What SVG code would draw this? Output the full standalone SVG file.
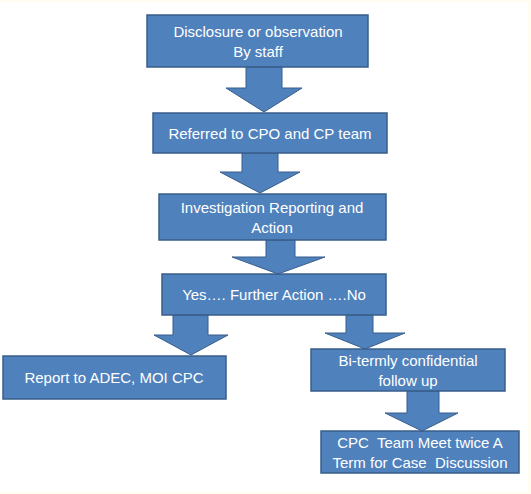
<svg xmlns="http://www.w3.org/2000/svg" width="531" height="494" viewBox="0 0 531 494">
<style>
.box{fill:#4F81BD;stroke:#385D8A;stroke-width:1.5}
.arr{fill:#4F81BD;stroke:#385D8A;stroke-width:1}
text{font-family:"Liberation Sans",Arial,sans-serif;font-size:15px;fill:#ffffff;text-anchor:middle;white-space:pre}
</style>
<rect x="0" y="0" width="531" height="494" fill="#fefdf0"/>
<rect x="0" y="2" width="528" height="490" fill="#ffffff"/>
<g id="connectors">
<path class="arr" d="M246,67 L282,67 L282,88 L302,88 L264,112 L226,88 L246,88 Z"/>
<path class="arr" d="M242,153 L278,153 L278,172 L300,172 L260,193 L220,172 L242,172 Z"/>
<path class="arr" d="M266,240 L295,240 L295,257 L325,257 L278,274 L232,257 L266,257 Z"/>
<path class="arr" d="M173,315 L208,315 L208,335 L228,335 L191,355 L154,335 L173,335 Z"/>
<path class="arr" d="M346,315 L373,315 L373,333 L405,333 L365,349 L325,333 L346,333 Z"/>
<path class="arr" d="M407,391 L439,391 L439,413 L458,413 L422,431 L385,413 L407,413 Z"/>
</g>
<g id="n1"><rect class="box" x="147" y="15" width="221" height="52"/><text x="258" y="37">Disclosure or observation</text><text x="258" y="57">By staff</text></g>
<g id="n2"><rect class="box" x="153" y="113" width="234" height="40"/><text x="270" y="139">Referred to CPO and CP team</text></g>
<g id="n3"><rect class="box" x="159" y="194" width="227" height="46"/><text x="272" y="213">Investigation Reporting and</text><text x="272" y="233">Action</text></g>
<g id="n4"><rect class="box" x="162" y="274" width="224" height="41"/><text x="274" y="300">Yes…. Further Action ….No</text></g>
<g id="n5"><rect class="box" x="3" y="356" width="223" height="43"/><text x="114" y="383">Report to ADEC, MOI CPC</text></g>
<g id="n6"><rect class="box" x="311" y="349" width="194" height="42"/><text x="408" y="366">Bi-termly confidential</text><text x="408" y="386">follow up</text></g>
<g id="n7"><rect class="box" x="321" y="431" width="198" height="42"/><text x="420" y="448" xml:space="preserve">CPC  Team Meet twice A</text><text x="420" y="468" xml:space="preserve">Term for Case  Discussion</text></g>
</svg>
